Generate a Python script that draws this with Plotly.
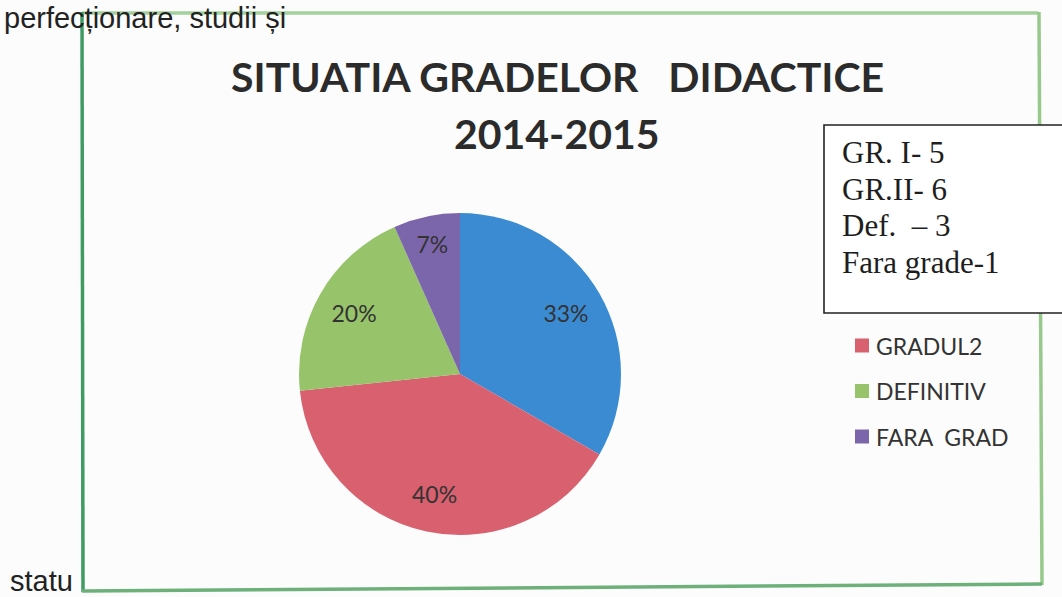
import plotly.graph_objects as go

# ---- data ----
labels = ["GRADUL1", "GRADUL2", "DEFINITIV", "FARA  GRAD"]
values = [5, 6, 3, 1]
colors = ["#3b8bd3", "#d8606f", "#97c46a", "#7c66ab"]
box_names = ["GR. I- ", "GR.II- ", "Def.\u00a0\u00a0– ", "Fara grade-"]
title_lines = ["SITUATIA GRADELOR\u00a0\u00a0 DIDACTICE", "2014-2015"]

W, H = 1062, 597
def px(x): return x / W
def py(y): return 1 - y / H

cx, cy, r = 460, 374, 161
dom = dict(x=[px(cx - r), px(cx + r)], y=[py(cy + r), py(cy - r)])

fig = go.Figure()
# filled slices
fig.add_trace(go.Pie(
    labels=labels, values=values, sort=False, direction="clockwise", rotation=0,
    marker=dict(colors=colors, line=dict(width=0)),
    textinfo="none", domain=dom,
    showlegend=False, hoverinfo="label+value+percent",
))
# percentage labels, placed in an outer ring as in the original
fig.add_trace(go.Pie(
    labels=labels, values=values, sort=False, direction="clockwise", rotation=0,
    hole=0.52,
    marker=dict(colors=["rgba(0,0,0,0)"] * len(values), line=dict(width=0)),
    texttemplate="%{percent:.0%}", textposition="inside",
    insidetextorientation="horizontal",
    textfont=dict(family="Lato", size=23, color="#333333"),
    domain=dom, showlegend=False, hoverinfo="skip",
))

shapes = []
annotations = []

# green frame (four sides, slightly different tints as in the scan)
def seg(x0, y0, x1, y1, color, w=3.5):
    shapes.append(dict(type="line", xref="paper", yref="paper",
                       x0=px(x0), y0=py(y0), x1=px(x1), y1=py(y1),
                       line=dict(color=color, width=w)))
seg(82, 13, 1038, 13, "#a3d09c")
seg(1039, 12, 1042, 585, "#98c98c")
seg(82, 12, 83, 592, "#3f9a64")
seg(82, 591, 1042, 584, "#6db07a")

# title
for txt, yy in zip(title_lines, [76, 134]):
    annotations.append(dict(text=txt, x=px(557), y=py(yy), xref="paper", yref="paper",
                            showarrow=False, xanchor="center", yanchor="middle",
                            font=dict(family="Lato", size=41, color="#2b2b2b", weight="bold")))

# custom legend (first entry hidden behind the text box, as in the original)
leg_y0, leg_dy = 300, 45.5
for i, (lab, col) in enumerate(zip(labels, colors)):
    if i == 0:
        continue
    yy = leg_y0 + i * leg_dy
    shapes.append(dict(type="rect", xref="paper", yref="paper",
                       x0=px(855), x1=px(869), y0=py(yy - 7), y1=py(yy + 7),
                       fillcolor=col, line=dict(width=0)))
    annotations.append(dict(text=lab.replace("  ", "\u00a0\u00a0"), x=px(874), y=py(yy), xref="paper", yref="paper",
                            showarrow=False, xanchor="left", yanchor="middle",
                            font=dict(family="Lato", size=23, color="#333333")))

# text box
shapes.append(dict(type="rect", xref="paper", yref="paper",
                   x0=px(824), x1=px(1075), y0=py(313), y1=py(125),
                   fillcolor="#ffffff", line=dict(color="#222222", width=1.6)))
for i, (nm, v) in enumerate(zip(box_names, values)):
    base = 165 + i * 36.7
    annotations.append(dict(text=f"{nm}{v}", x=px(840), y=py(base + 7), xref="paper", yref="paper",
                            showarrow=False, xanchor="left", yanchor="bottom",
                            font=dict(family="Liberation Serif", size=31, color="#1e1e1e")))

# surrounding document text (scanned page)
annotations.append(dict(text="perfecționare, studii și", x=px(2), y=py(0), xref="paper", yref="paper",
                        showarrow=False, xanchor="left", yanchor="top",
                        font=dict(family="Liberation Sans", size=29, color="#222222")))
annotations.append(dict(text="statu", x=px(8), y=py(581), xref="paper", yref="paper",
                        showarrow=False, xanchor="left", yanchor="middle",
                        font=dict(family="Liberation Sans", size=29, color="#222222")))

fig.update_layout(
    width=W, height=H, margin=dict(l=0, r=0, t=0, b=0),
    paper_bgcolor="#fcfcfc", plot_bgcolor="#fcfcfc",
    shapes=shapes, annotations=annotations, showlegend=False,
)
fig.write_html("out.html", config={"displayModeBar": False},
               post_script="document.body.style.margin='0';document.body.style.overflow='hidden';")
